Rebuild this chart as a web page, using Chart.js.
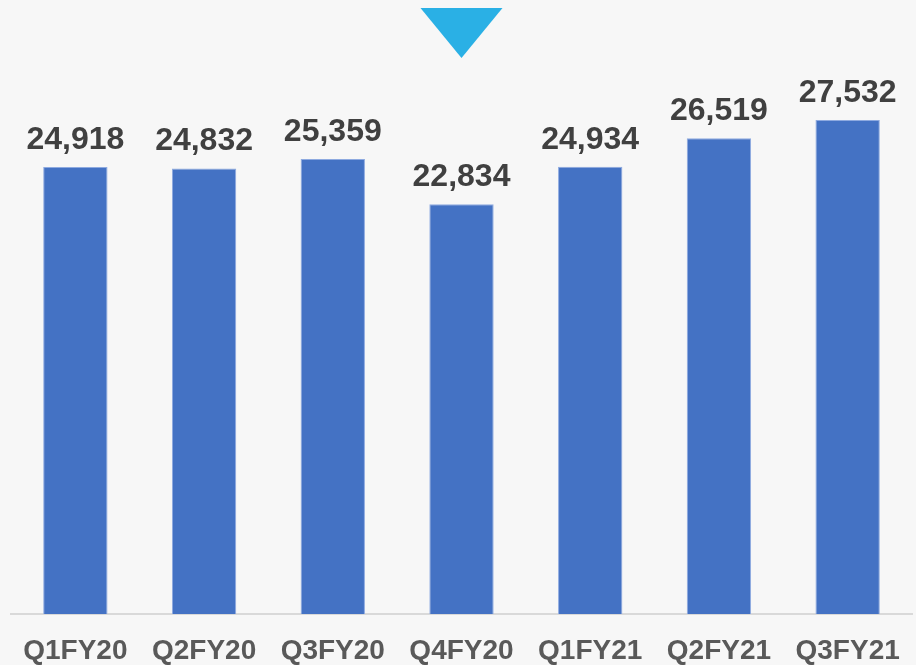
<!DOCTYPE html>
<html>
<head>
<meta charset="utf-8">
<script src="https://cdn.jsdelivr.net/npm/chart.js@4.4.0/dist/chart.umd.min.js"></script>
<style>
html, body { margin: 0; padding: 0; background: #f7f7f7; }
canvas { display: block; }
</style>
</head>
<body>
<canvas id="c" width="916" height="665"></canvas>
<script>
const categories = ['Q1FY20', 'Q2FY20', 'Q3FY20', 'Q4FY20', 'Q1FY21', 'Q2FY21', 'Q3FY21'];
const values = [24918, 24832, 25359, 22834, 24934, 26519, 27532];
const markerCategory = 'Q4FY20';

const valueLabels = {
  id: 'valueLabels',
  afterDatasetsDraw(chart) {
    const ctx = chart.ctx;
    const meta = chart.getDatasetMeta(0);
    ctx.save();
    ctx.fillStyle = '#404040';
    ctx.font = 'bold 32px "Liberation Sans", Arial, sans-serif';
    ctx.textAlign = 'center';
    ctx.textBaseline = 'alphabetic';
    meta.data.forEach((bar, i) => {
      ctx.fillText(values[i].toLocaleString('en-US'), bar.x, bar.y - 18);
    });
    ctx.restore();
  }
};

const marker = {
  id: 'marker',
  afterDraw(chart) {
    const ctx = chart.ctx;
    const x = chart.scales.x.getPixelForValue(categories.indexOf(markerCategory));
    ctx.save();
    ctx.fillStyle = '#2AB0E5';
    ctx.beginPath();
    ctx.moveTo(x - 41, 8);
    ctx.lineTo(x + 41, 8);
    ctx.lineTo(x, 58);
    ctx.closePath();
    ctx.fill();
    ctx.restore();
  }
};

const bg = {
  id: 'bg',
  beforeDraw(chart) {
    const ctx = chart.ctx;
    ctx.save();
    ctx.fillStyle = '#f7f7f7';
    ctx.fillRect(0, 0, chart.width, chart.height);
    ctx.restore();
  }
};

new Chart(document.getElementById('c'), {
  type: 'bar',
  data: {
    labels: categories,
    datasets: [{
      data: values,
      backgroundColor: '#4472C4',
      borderColor: '#8eaae0',
      borderWidth: 1,
      barPercentage: 0.5,
      categoryPercentage: 1.0
    }]
  },
  options: {
    responsive: false,
    animation: false,
    devicePixelRatio: 1,
    layout: { padding: { left: 11, right: 4, top: 4, bottom: 0 } },
    plugins: { legend: { display: false }, tooltip: { enabled: false } },
    scales: {
      x: {
        grid: { display: false },
        border: { display: true, color: '#d9d9d9', width: 2 },
        afterFit(scale) { scale.height = 51; },
        ticks: {
          color: '#595959',
          font: { family: '"Liberation Sans", Arial, sans-serif', size: 28, weight: 'bold', lineHeight: 1 },
          padding: 15,
          maxRotation: 0,
          autoSkip: false
        }
      },
      y: {
        display: false,
        min: 0,
        max: 34000
      }
    }
  },
  plugins: [bg, valueLabels, marker]
});
</script>
</body>
</html>
